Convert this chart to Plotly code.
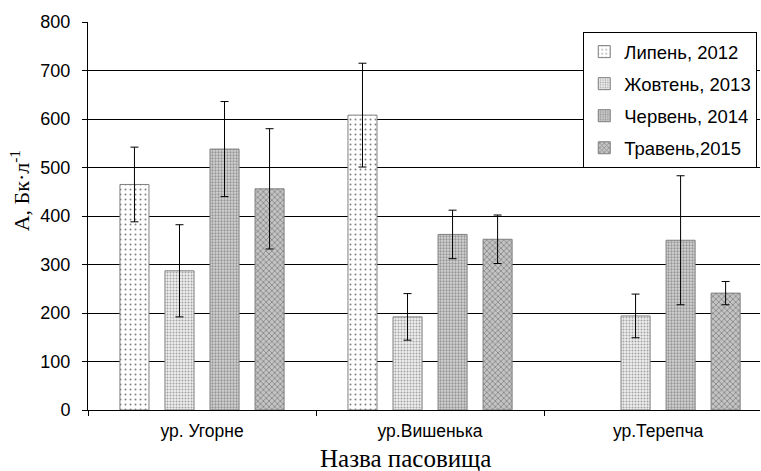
import plotly.graph_objects as go

categories = ["ур. Угорне", "ур.Вишенька", "ур.Терепча"]
series_names = ["Липень, 2012", "Жовтень, 2013", "Червень, 2014", "Травень,2015"]
lypen_2012 = [465, 608, None]
lypen_2012_err = [77, 107, None]
zhovten_2013 = [287, 192, 194]
zhovten_2013_err = [95, 48, 45]
cherven_2014 = [538, 362, 350]
cherven_2014_err = [98, 50, 133]
traven_2015 = [456, 352, 241]
traven_2015_err = [124, 50, 24]

values = [lypen_2012, zhovten_2013, cherven_2014, traven_2015]
errors = [lypen_2012_err, zhovten_2013_err, cherven_2014_err, traven_2015_err]

patterns = [
    dict(shape=".", fgcolor="#000000", bgcolor="#ffffff", size=5, solidity=0.12),
    dict(shape=".", fgcolor="#555555", bgcolor="#eeeeee", size=3, solidity=0.33),
    dict(shape=".", fgcolor="#555555", bgcolor="#d4d4d4", size=3, solidity=0.45),
    dict(shape="x", fgcolor="#505050", bgcolor="#c4c4c4", size=4, solidity=0.4),
]

fig = go.Figure()
for i, name in enumerate(series_names):
    fig.add_trace(go.Bar(
        x=categories,
        y=values[i],
        name=name,
        legendgroup=name,
        marker=dict(color=patterns[i]["bgcolor"], pattern=patterns[i],
                    line=dict(color="#7f7f7f", width=1)),
        error_y=dict(type="data", array=errors[i], color="#000000",
                     thickness=1, width=4, visible=True),
    ))

fig.update_layout(
    width=761, height=471,
    margin=dict(l=88, r=1, t=22, b=61),
    paper_bgcolor="#ffffff", plot_bgcolor="#ffffff",
    barmode="group", bargap=0.21, bargroupgap=0.355,
    font=dict(family="Liberation Sans, Arial", size=17, color="#000000"),
    showlegend=True,
    legend=dict(x=0.737, y=0.974, xanchor="left", yanchor="top",
                bgcolor="#ffffff", bordercolor="#000000", borderwidth=1,
                font=dict(family="Liberation Sans, Arial", size=18.5),
                tracegroupgap=5, itemwidth=30),
    xaxis=dict(range=[-0.5, 2.447], showline=True, linecolor="#000000",
               linewidth=1, ticks="outside", tickson="boundaries",
               ticklen=5, tickcolor="#000000", showgrid=False,
               tickfont=dict(size=17.5), ticklabelstandoff=5),
    yaxis=dict(range=[0, 800], dtick=100, showline=True, linecolor="#000000",
               linewidth=1, ticks="outside", ticklen=5, tickcolor="#000000",
               showgrid=True, gridcolor="#000000", gridwidth=1,
               zeroline=False, tickfont=dict(size=18), ticklabelstandoff=8),
    annotations=[
        dict(text="Назва пасовища", xref="paper", yref="paper",
             x=0.473, y=-0.125, xanchor="center", yanchor="middle",
             showarrow=False,
             font=dict(family="Liberation Serif, Times New Roman", size=25)),
        dict(text="А, Бк·л<sup>-1</sup>", xref="paper", yref="paper",
             x=-0.101, y=0.564, xanchor="center", yanchor="middle",
             textangle=-90, showarrow=False,
             font=dict(family="Liberation Serif, Times New Roman", size=22)),
    ],
)

fig.write_html("out.html")
